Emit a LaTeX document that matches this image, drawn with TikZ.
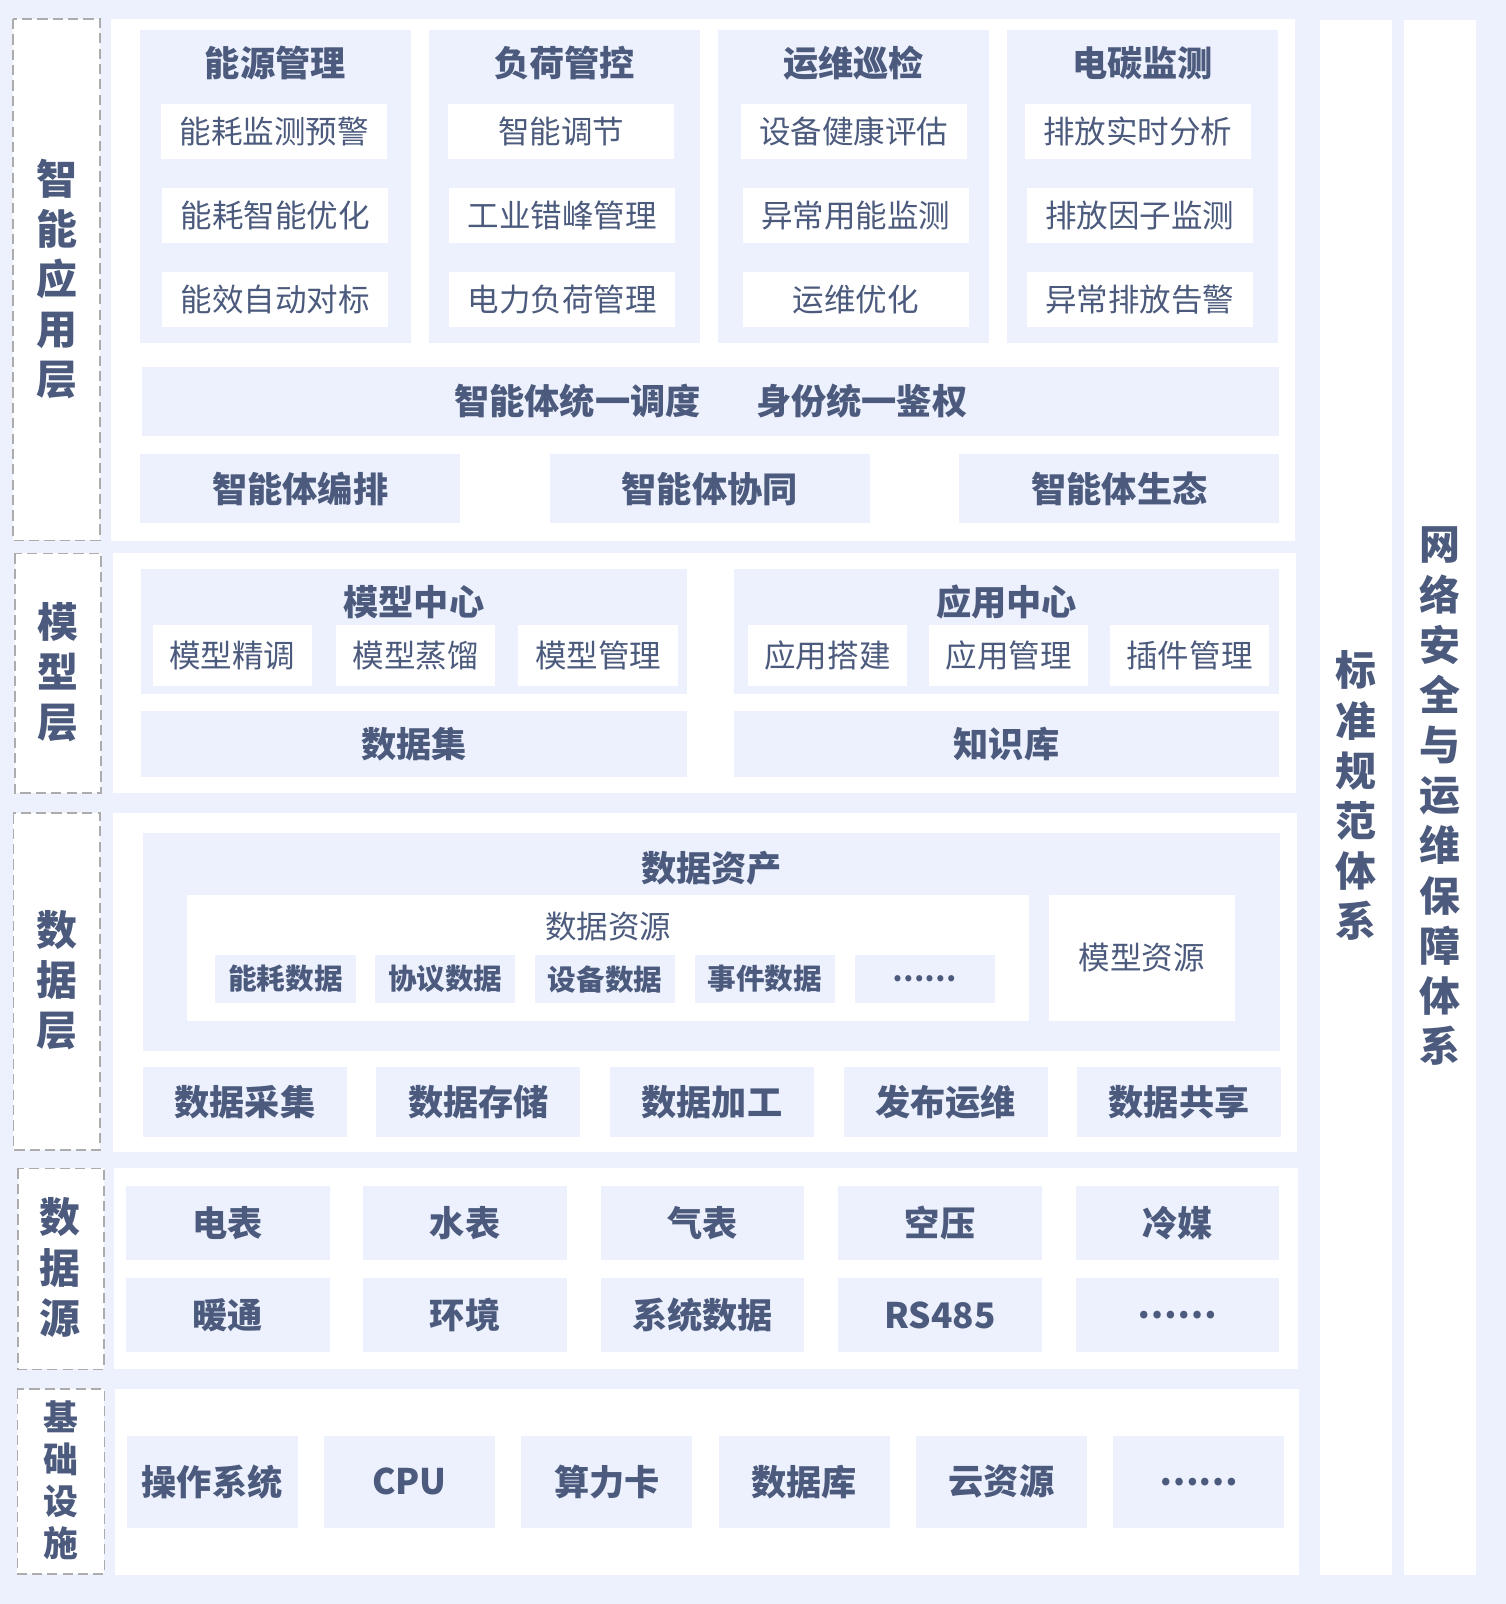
\documentclass[tikz,border=0pt]{standalone}
\usepackage{fontspec}
\setmainfont{Noto Sans CJK SC}
\usepackage{tikz}
\usetikzlibrary{positioning}
\usepackage{xcolor}
\definecolor{bgblue}{RGB}{237,241,253}
\definecolor{ink}{RGB}{76,91,125}
\definecolor{dashgray}{RGB}{172,172,172}

\begin{document}
\begin{tikzpicture}[x=0.5pt, y=-0.5pt,
  layertag/.style={draw=dashgray, fill=white, line width=0.75pt, dash pattern=on 5pt off 2.5pt},
  tagtxt/.style={text=ink, align=center, inner sep=0pt, font=\bfseries\fontsize{20}{24.5}\selectfont},
  grpbox/.style={fill=bgblue, inner sep=0pt},
  grptitle/.style={text=ink, inner sep=0pt, font=\bfseries\fontsize{17.2}{20}\selectfont},
  cellbox/.style={fill=bgblue, text=ink, inner sep=0pt, font=\bfseries\fontsize{17.2}{20}\selectfont},
  itembox/.style={fill=white, text=ink, inner sep=0pt, font=\fontsize{15.4}{18}\selectfont},
  smallbox/.style={fill=bgblue, text=ink, inner sep=0pt, minimum width=68.5pt, minimum height=23.65pt, font=\bfseries\fontsize{14}{16}\selectfont},
  appitem/.style={itembox, minimum width=110.4pt, minimum height=26.85pt},
  mdlitem/.style={itembox, minimum width=78pt, minimum height=29.65pt},
  flowbox/.style={cellbox, minimum width=99.65pt, minimum height=34.5pt},
  srcbox/.style={cellbox, minimum width=99.5pt, minimum height=36.2pt},
  infrabox/.style={cellbox, minimum width=83.5pt, minimum height=44.8pt}
]

\fill[bgblue] (0,0) rectangle (1471.4,1567.2);

\fill[white] (108.7,18.6) rectangle (1265.3,528.3);
\fill[white] (110,540.6) rectangle (1266,775);
\fill[white] (110,794.6) rectangle (1266.9,1125.2);
\fill[white] (111.7,1141) rectangle (1268,1337.8);
\fill[white] (112.4,1357) rectangle (1269.2,1538.8);
\fill[white] (1289.7,19.5) rectangle (1359.7,1538.5);
\fill[white] (1371.8,19.5) rectangle (1442.1,1538.5);

\draw[layertag] (12.7,18.6) rectangle (97.7,528);
\draw[layertag] (14.4,540.6) rectangle (98.6,775);
\draw[layertag] (13.1,794.6) rectangle (97.7,1123.6);
\draw[layertag] (17.5,1141.5) rectangle (101.6,1337.9);
\draw[layertag] (17,1357) rectangle (102,1537.9);

\node[tagtxt] (lapp) at (55.3,272.5) {智\\能\\应\\用\\层};
\node[tagtxt] (lmdl) at (56.5,657) {模\\型\\层};
\node[tagtxt] (ldat) at (55.4,957.5) {数\\据\\层};
\node[tagtxt] (lsrc) at (59,1238.5) {数\\据\\源};
\node[tagtxt, font=\bfseries\fontsize{17}{20.6}\selectfont] (linf) at (59.5,1446.5) {基\\础\\设\\施};
\node[tagtxt] (lstd) at (1324.7,777.5) {标\\准\\规\\范\\体\\系};
\node[tagtxt] (lnet) at (1407,778) {网\\络\\安\\全\\与\\运\\维\\保\\障\\体\\系};

% intelligent application layer
\node[grpbox, minimum width=132.25pt, minimum height=152.9pt] (g1) at (269.05,182.2) {};
\node[grpbox, minimum width=132.25pt, minimum height=152.9pt] (g2) at (551.55,182.2) {};
\node[grpbox, minimum width=132.25pt, minimum height=152.9pt] (g3) at (834.05,182.2) {};
\node[grpbox, minimum width=132.25pt, minimum height=152.9pt] (g4) at (1116.55,182.2) {};

\node[grptitle] (t1) at (269.05,61.5) {能源管理};
\node[grptitle] (t2) at (551.55,61.5) {负荷管控};
\node[grptitle] (t3) at (834.05,61.5) {运维巡检};
\node[grptitle] (t4) at (1116.55,61.5) {电碳监测};

\node[appitem] (e1) at (268,128.5) {能耗监测预警};
\node[appitem] (e2) at (269,210.5) {能耗智能优化};
\node[appitem] (e3) at (269,292.6) {能效自动对标};
\node[appitem] (f1) at (548.5,128.5) {智能调节};
\node[appitem] (f2) at (549.5,210.5) {工业错峰管理};
\node[appitem] (f3) at (549.5,292.6) {电力负荷管理};
\node[appitem] (o1) at (834,128.5) {设备健康评估};
\node[appitem] (o2) at (836,210.5) {异常用能监测};
\node[appitem] (o3) at (836,292.6) {运维优化};
\node[appitem] (c1) at (1111.5,128.5) {排放实时分析};
\node[appitem] (c2) at (1113.5,210.5) {排放因子监测};
\node[appitem] (c3) at (1113.5,292.6) {异常排放告警};

\node[cellbox, minimum width=555.5pt, minimum height=33.4pt] (ctrl) at (694.5,392.3) {智能体统一调度\hspace{27pt}身份统一鉴权};

\node[cellbox, minimum width=156.4pt, minimum height=33.4pt] (a1) at (293.35,477.3) {智能体编排};
\node[cellbox, minimum width=156.4pt, minimum height=33.4pt] (a2) at (693.5,477.3) {智能体协同};
\node[cellbox, minimum width=156.4pt, minimum height=33.4pt] (a3) at (1093.7,477.3) {智能体生态};

% model layer
\node[grpbox, minimum width=266.4pt, minimum height=61.2pt] (mc) at (404.4,617.2) {};
\node[grpbox, minimum width=266.6pt, minimum height=61.2pt] (ac) at (983.4,617.2) {};
\node[grptitle] (mct) at (404.4,588) {模型中心};
\node[grptitle] (act) at (983.4,588) {应用中心};

\node[mdlitem] (m1) at (227,640.35) {模型精调};
\node[mdlitem] (m2) at (406,640.35) {模型蒸馏};
\node[mdlitem] (m3) at (584.5,640.35) {模型管理};
\node[mdlitem] (p1) at (808.5,640.35) {应用搭建};
\node[mdlitem] (p2) at (985.5,640.35) {应用管理};
\node[mdlitem] (p3) at (1162.2,640.35) {插件管理};

\node[cellbox, minimum width=266.4pt, minimum height=32.1pt] (ds) at (404.4,726.8) {数据集};
\node[cellbox, minimum width=266.6pt, minimum height=32.1pt] (kb) at (983.4,726.8) {知识库};

% data layer
\node[grpbox, minimum width=555.5pt, minimum height=106.15pt] (asset) at (695.1,920.35) {};
\node[grptitle] (assett) at (695.1,848) {数据资产};
\node[fill=white, inner sep=0pt, minimum width=411.2pt, minimum height=61.5pt] (res) at (594.2,935.8) {};
\node[grptitle, font=\fontsize{15.4}{18}\selectfont] (rest) at (594.2,905.5) {数据资源};

\node[smallbox] (r1) at (279,956.65) {能耗数据};
\node[smallbox] (r2) at (435.1,956.65) {协议数据};
\node[smallbox] (r3) at (591.2,956.65) {设备数据};
\node[smallbox] (r4) at (747.3,956.65) {事件数据};
\node[smallbox] (r5) at (903.4,956.65) {……};

\node[itembox, minimum width=90.85pt, minimum height=61.55pt] (mres) at (1115.75,935.65) {模型资源};

\node[flowbox] (d1) at (239.25,1076.7) {数据采集};
\node[flowbox] (d2) at (467.45,1076.7) {数据存储};
\node[flowbox] (d3) at (695.65,1076.7) {数据加工};
\node[flowbox] (d4) at (923.85,1076.7) {发布运维};
\node[flowbox] (d5) at (1152.05,1076.7) {数据共享};

% data sources
\node[srcbox] (s1) at (222.5,1194.9) {电表};
\node[srcbox] (s2) at (454.5,1194.9) {水表};
\node[srcbox] (s3) at (686.5,1194.9) {气表};
\node[srcbox] (s4) at (918.5,1194.9) {空压};
\node[srcbox] (s5) at (1150.5,1194.9) {冷媒};
\node[srcbox] (s6) at (222.5,1285) {暖通};
\node[srcbox] (s7) at (454.5,1285) {环境};
\node[srcbox] (s8) at (686.5,1285) {系统数据};
\node[srcbox] (s9) at (918.5,1285) {RS485};
\node[srcbox] (s10) at (1150.5,1285) {……};

% infrastructure
\node[infrabox] (i1) at (207.3,1447.8) {操作系统};
\node[infrabox] (i2) at (400.1,1447.8) {CPU};
\node[infrabox] (i3) at (592.9,1447.8) {算力卡};
\node[infrabox] (i4) at (785.7,1447.8) {数据库};
\node[infrabox] (i5) at (978.5,1447.8) {云资源};
\node[infrabox] (i6) at (1171.3,1447.8) {……};

\end{tikzpicture}
\end{document}
